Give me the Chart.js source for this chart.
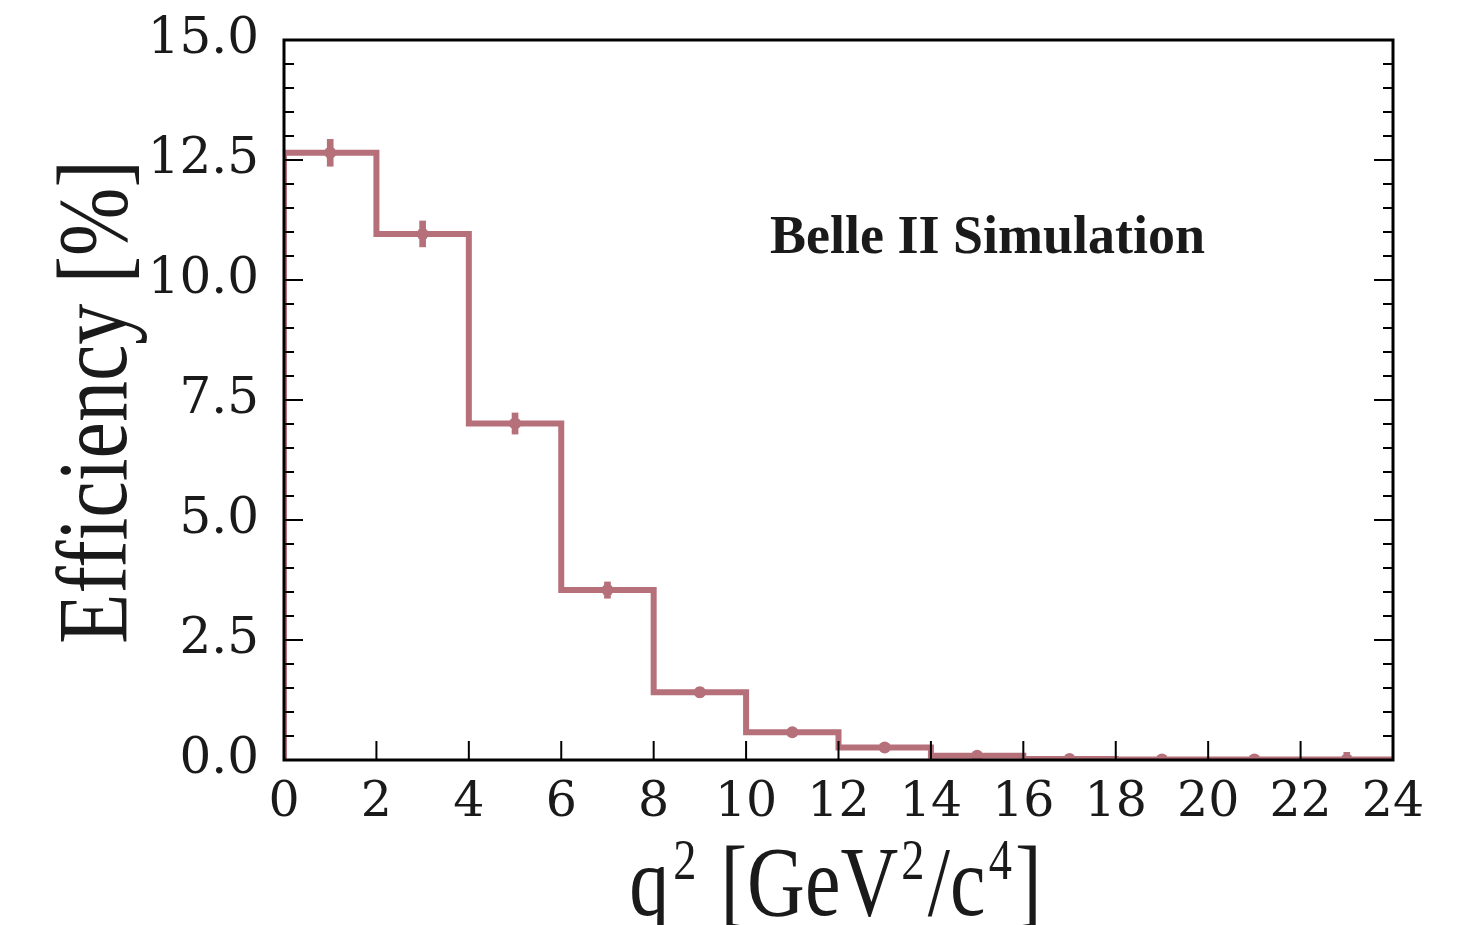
<!DOCTYPE html>
<html lang="en">
<head>
  <meta charset="UTF-8"/>
  <title>Efficiency vs q2 - Belle II Simulation</title>
  <script src="https://cdn.jsdelivr.net/npm/chart.js"></script>
  <style>
    body {
      margin: 0;
      padding: 0;
      background: #fff;
    }
    .chart-box {
      width: 1470px;
      height: 925px;
      position: relative;
    }
  </style>
</head>
<body>

<div class="chart-box">
  <canvas id="effChart"></canvas>
</div>

<script>
  // bin edges in q^2 [GeV^2/c^4]
  const binEdges = [0, 2, 4, 6, 8, 10, 12, 14, 16, 18, 20, 22, 24];
  // efficiency per bin [%]
  const efficiency = [12.65, 10.96, 7.01, 3.54, 1.41, 0.58, 0.26, 0.09, 0.02, 0.01, 0.01, 0.01];
  // statistical error per bin [%]
  const effError = [0.28, 0.27, 0.22, 0.17, 0.10, 0.07, 0.05, 0.03, 0.02, 0.02, 0.02, 0.15];
  const xTicks = [0, 2, 4, 6, 8, 10, 12, 14, 16, 18, 20, 22, 24];
  const yLabels = [0.0, 2.5, 5.0, 7.5, 10.0, 12.5, 15.0];

  const histColor = "#b5707a";
  const inkColor = "#1a1a1a";

  // step outline from the bin edges
  const histPoints = [{ x: binEdges[0], y: 0 }];
  efficiency.forEach((v, i) => {
    histPoints.push({ x: binEdges[i], y: v });
    histPoints.push({ x: binEdges[i + 1], y: v });
  });
  histPoints.push({ x: binEdges[binEdges.length - 1], y: 0 });

  const centers = efficiency.map((v, i) => (binEdges[i] + binEdges[i + 1]) / 2);
  const markerPoints = efficiency.map((v, i) => ({ x: centers[i], y: v }));
  const errorBars = efficiency.map((v, i) => ({ x: centers[i], y: [v - effError[i], v + effError[i]] }));

  // inward ticks + frame, drawn over the data
  const framePlugin = {
    id: "frame",
    afterDatasetsDraw(chart) {
      const ctx = chart.ctx;
      const area = chart.chartArea;
      const xs = chart.scales.x;
      const ys = chart.scales.y;
      ctx.save();
      ctx.strokeStyle = "#000";
      ctx.lineWidth = 2;
      ys.ticks.forEach(t => {
        const py = ys.getPixelForValue(t.value);
        const major = yLabels.some(l => Math.abs(l - t.value) < 1e-6);
        const len = major ? 19 : 10;
        ctx.beginPath();
        ctx.moveTo(area.left, py);
        ctx.lineTo(area.left + len, py);
        ctx.moveTo(area.right, py);
        ctx.lineTo(area.right - len, py);
        ctx.stroke();
      });
      xs.ticks.forEach(t => {
        const px = xs.getPixelForValue(t.value);
        ctx.beginPath();
        ctx.moveTo(px, area.bottom);
        ctx.lineTo(px, area.bottom - 19);
        ctx.stroke();
      });
      ctx.lineWidth = 3;
      ctx.strokeRect(area.left, area.top, area.right - area.left, area.bottom - area.top);
      ctx.restore();
    }
  };

  function drawParts(ctx, parts, sx) {
    let total = 0;
    parts.forEach(p => {
      ctx.font = p.size + "px 'Liberation Serif', serif";
      p.w = ctx.measureText(p.t).width + (p.gap || 0);
      total += p.w;
    });
    ctx.scale(sx, 1);
    let x = -total / 2;
    ctx.textAlign = "left";
    ctx.textBaseline = "alphabetic";
    parts.forEach(p => {
      ctx.font = p.size + "px 'Liberation Serif', serif";
      ctx.fillText(p.t, x + (p.gap || 0) / 2, -(p.rise || 0));
      x += p.w;
    });
  }

  // axis titles and the Belle II tag
  const labelPlugin = {
    id: "labels",
    afterDraw(chart) {
      const ctx = chart.ctx;
      const area = chart.chartArea;
      ctx.save();
      ctx.fillStyle = inkColor;

      // x title
      ctx.save();
      ctx.translate((area.left + area.right) / 2 - 3, 915);
      drawParts(ctx, [
        { t: "q", size: 100 },
        { t: "2", size: 58, rise: 36, gap: 10 },
        { t: " [GeV", size: 100 },
        { t: "2", size: 58, rise: 36, gap: 8 },
        { t: "/c", size: 100 },
        { t: "4", size: 58, rise: 36, gap: 8 },
        { t: "]", size: 100 }
      ], 0.8);
      ctx.restore();

      // y title
      ctx.save();
      ctx.translate(126, (area.top + area.bottom) / 2 + 2);
      ctx.rotate(-Math.PI / 2);
      drawParts(ctx, [{ t: "Efficiency [%]", size: 100 }], 0.82);
      ctx.restore();

      ctx.font = "bold 54px 'Liberation Serif', serif";
      ctx.textAlign = "left";
      ctx.textBaseline = "alphabetic";
      ctx.fillText("Belle II Simulation", 770, 253);
      ctx.restore();
    }
  };

  const ctx = document.getElementById("effChart").getContext("2d");
  new Chart(ctx, {
    data: {
      datasets: [
        {
          type: "scatter",
          data: markerPoints,
          pointRadius: 6,
          pointBackgroundColor: histColor,
          pointBorderWidth: 0,
          clip: 0
        },
        {
          type: "bar",
          data: errorBars,
          backgroundColor: histColor,
          borderWidth: 0,
          barThickness: 6,
          grouped: false,
          clip: 0
        },
        {
          type: "line",
          data: histPoints,
          borderColor: histColor,
          borderWidth: 6,
          borderJoinStyle: "miter",
          pointRadius: 0,
          fill: false,
          tension: 0
        }
      ]
    },
    options: {
      responsive: true,
      maintainAspectRatio: false,
      animation: false,
      devicePixelRatio: 1,
      layout: { padding: { top: 40, right: 77, left: 0, bottom: 0 } },
      plugins: {
        legend: { display: false },
        tooltip: { enabled: false }
      },
      scales: {
        x: {
          type: "linear",
          min: 0,
          max: 24,
          offset: false,
          grid: { display: false, drawTicks: false, offset: false },
          border: { display: false },
          afterBuildTicks: (scale) => {
            scale.ticks = xTicks.map(v => ({ value: v }));
          },
          afterFit: (scale) => {
            scale.height = 165;
            scale.paddingLeft = 0;
            scale.paddingRight = 0;
          },
          ticks: {
            autoSkip: false,
            maxRotation: 0,
            padding: 14,
            color: inkColor,
            font: { family: "'DejaVu Serif', serif", size: 49 },
            callback: (v) => String(v)
          }
        },
        y: {
          min: 0,
          max: 15,
          grid: { display: false, drawTicks: false },
          border: { display: false },
          afterFit: (scale) => {
            scale.width = 284;
            scale.paddingTop = 0;
            scale.paddingBottom = 0;
          },
          ticks: {
            stepSize: 0.5,
            autoSkip: false,
            padding: 25,
            color: inkColor,
            font: { family: "'DejaVu Serif', serif", size: 50 },
            callback: (v) => yLabels.some(l => Math.abs(l - v) < 1e-6) ? v.toFixed(1) : ""
          }
        }
      }
    },
    plugins: [framePlugin, labelPlugin]
  });
</script>

</body>
</html>
